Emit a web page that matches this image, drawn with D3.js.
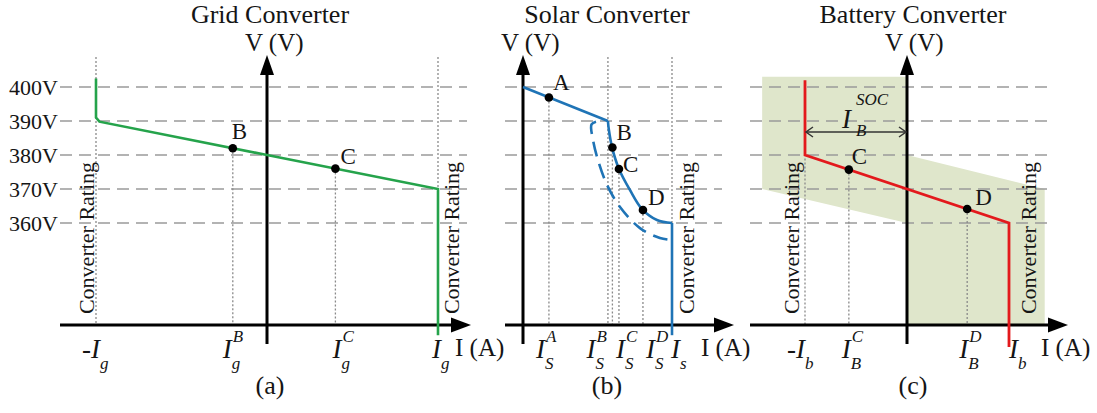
<!DOCTYPE html>
<html>
<head>
<meta charset="utf-8">
<script src="https://cdn.jsdelivr.net/npm/d3@7"></script>
<style>
  body { margin: 0; background: #fff; }
  svg text { font-family: "Liberation Serif", "Times New Roman", serif; fill: #151515; }
</style>
</head>
<body>
<div id="chart"></div>
<script>
var w = 1097, h = 413;

// shared voltage ticks (V)
var voltTicks = [400, 390, 380, 370, 360];

// (a) grid converter, current in % of rating
var gridLine = [[-100, 402.5], [-100, 391], [-98, 389.8], [0, 380], [100, 370], [100, 327]];
var gridPoints = [{name: "B", i: -20, v: 382}, {name: "C", i: 40, v: 376}];
var gridTicks = [
  {i: -100, main: "-I", sup: "", sub: "g"},
  {i: -20, main: "I", sup: "B", sub: "g"},
  {i: 40, main: "I", sup: "C", sub: "g"},
  {i: 100, main: "I", sup: "", sub: "g"}
];

// (b) solar converter
var solarStraight = [[0, 400], [57, 390]];
var solarKnee = [[57, 390], [57.6, 387.5], [59.7, 382.4], [64.4, 375.9], [71.8, 369.7], [79.9, 364.1], [89.9, 360.9], [100, 360]];
var solarDrop = [[100, 360], [100, 327]];
var solarDashed = [[49, 389.8], [46, 389], [47, 384.4], [50.3, 378.5], [56.4, 371.2], [65.1, 364.7], [78.5, 358.5], [91.9, 355.6], [100, 355]];
var solarPoints = [{name: "A", i: 17.4, v: 396.9}, {name: "B", i: 60, v: 382.2}, {name: "C", i: 64.4, v: 375.9}, {name: "D", i: 80.5, v: 363.8}];
var solarTicks = [
  {i: 17.4, main: "I", sup: "A", sub: "S"},
  {i: 60, main: "I", sup: "B", sub: "S"},
  {i: 64.4, main: "I", sup: "C", sub: "S"},
  {i: 80.5, main: "I", sup: "D", sub: "S"},
  {i: 100, main: "I", sup: "", sub: "s"}
];

// (c) battery converter
var batteryLine = [[-100, 402], [-100, 380], [100, 360], [100, 323.5]];
var batteryBand = [[-142, 403], [0, 403], [0, 380], [135, 370], [135, 330], [0, 330], [0, 360], [-142, 370]];
var batteryPoints = [{name: "C", i: -57, v: 375.7}, {name: "D", i: 59, v: 364.1}];
var batteryTicks = [
  {i: -100, main: "-I", sup: "", sub: "b"},
  {i: -57, main: "I", sup: "C", sub: "B"},
  {i: 59, main: "I", sup: "D", sub: "B"},
  {i: 100, main: "I", sup: "", sub: "b"}
];
var socSpan = [-100, 0];

var svg = d3.select("#chart").append("svg").attr("width", w).attr("height", h);

// voltage scale shared by all panels (the current axis sits on a broken scale at 330)
var y = d3.scaleLinear().domain([400, 360]).range([87, 223]);
var axisV = 330;
var baseY = y(axisV);
var vTop = 55, vBottom = 344;

var xa = d3.scaleLinear().domain([-100, 100]).range([96, 438]);
var xb = d3.scaleLinear().domain([0, 100]).range([523, 672]);
var xc = d3.scaleLinear().domain([-100, 100]).range([805, 1009]);

function line(x) {
  return d3.line().x(function(d) { return x(d[0]); }).y(function(d) { return y(d[1]); });
}

function grid(x0, x1) {
  svg.append("g").selectAll("line").data(voltTicks).enter().append("line")
    .attr("x1", x0).attr("x2", x1)
    .attr("y1", function(d) { return y(d); }).attr("y2", function(d) { return y(d); })
    .attr("stroke", "#9a9a9a").attr("stroke-width", 1.5).attr("stroke-dasharray", "12,7");
}

function dotted(x, yTop) {
  svg.append("line").attr("x1", x).attr("x2", x).attr("y1", yTop).attr("y2", baseY)
    .attr("stroke", "#8a8a8a").attr("stroke-width", 1.3).attr("stroke-dasharray", "2,2");
}

function axes(vx, x0, xTip, labelX) {
  svg.append("line").attr("x1", vx).attr("x2", vx).attr("y1", vBottom).attr("y2", vTop + 14)
    .attr("stroke", "#000").attr("stroke-width", 3);
  svg.append("path").attr("d", "M" + vx + "," + vTop + "L" + (vx - 7) + "," + (vTop + 20) + "L" + (vx + 7) + "," + (vTop + 20) + "Z");
  svg.append("line").attr("x1", x0).attr("x2", xTip - 14).attr("y1", baseY).attr("y2", baseY)
    .attr("stroke", "#000").attr("stroke-width", 3);
  svg.append("path").attr("d", "M" + xTip + "," + baseY + "L" + (xTip - 20) + "," + (baseY - 7.5) + "L" + (xTip - 20) + "," + (baseY + 7.5) + "Z");
  svg.append("text").attr("x", vx - 22).attr("y", 51).attr("font-size", 25).text("V (V)");
  svg.append("text").attr("x", labelX).attr("y", 356).attr("font-size", 25).text("I (A)");
}

function title(cx, label, sub) {
  svg.append("text").attr("x", cx).attr("y", 23).attr("text-anchor", "middle").attr("font-size", 26).text(label);
  svg.append("text").attr("x", cx).attr("y", 394).attr("text-anchor", "middle").attr("font-size", 26).text(sub);
}

function rating(bx) {
  svg.append("text").attr("transform", "translate(" + bx + ",238) rotate(-90)")
    .attr("text-anchor", "middle").attr("font-size", 22).text("Converter Rating");
}

function points(x, data, nudge) {
  svg.append("g").selectAll("circle").data(data).enter().append("circle")
    .attr("cx", function(d) { return x(d.i); }).attr("cy", function(d) { return y(d.v); })
    .attr("r", 4.3).attr("fill", "#000");
  svg.append("g").selectAll("text").data(data).enter().append("text")
    .attr("x", function(d) { return x(d.i) + (nudge[d.name] ? nudge[d.name][0] : 4); })
    .attr("y", function(d) { return y(d.v) + (nudge[d.name] ? nudge[d.name][1] : -6); })
    .attr("font-size", 23).text(function(d) { return d.name; });
}

function ticks(x, data, shift) {
  data.forEach(function(d, k) {
    var x0 = x(d.i) + shift[k];
    var t = svg.append("text").attr("x", x0).attr("y", 358).attr("font-size", 27)
      .attr("font-style", "italic").text(d.main);
    var len = t.node().getComputedTextLength();
    if (d.sup) svg.append("text").attr("x", x0 + len + 1).attr("y", 342).attr("font-size", 17)
      .attr("font-style", "italic").text(d.sup);
    svg.append("text").attr("x", x0 + len).attr("y", 369).attr("font-size", 17)
      .attr("font-style", "italic").text(d.sub);
  });
}

/* ------------------------------- (a) Grid ------------------------------- */
grid(60, 467);
svg.append("g").attr("transform", "translate(60,0)")
  .call(d3.axisLeft(y).tickValues(voltTicks).tickSize(0).tickPadding(2).tickFormat(function(d) { return d + "V"; }))
  .call(function(g) { g.select(".domain").remove(); })
  .selectAll("text").attr("font-size", 22).attr("fill", "#151515");
dotted(xa(-100), 57);
dotted(xa(100), 57);
gridPoints.forEach(function(p) { dotted(xa(p.i), y(p.v)); });
axes(xa(0), 60, 471, 455);
svg.append("path").datum(gridLine).attr("d", line(xa))
  .attr("fill", "none").attr("stroke", "#25a34b").attr("stroke-width", 2.6);
points(xa, gridPoints, {B: [-1, -9], C: [5, -5]});
ticks(xa, gridTicks, [-14, -10, -3, -6]);
rating(94);
rating(459);
title(270, "Grid Converter", "(a)");

/* ------------------------------- (b) Solar ------------------------------- */
grid(505, 722);
dotted(xb(57), 57);
dotted(xb(100), 57);
solarPoints.forEach(function(p) { dotted(xb(p.i), y(p.v)); });
axes(xb(0), 505, 734, 701);
svg.append("path").datum(solarDashed).attr("d", line(xb).curve(d3.curveCatmullRom))
  .attr("fill", "none").attr("stroke", "#1f74b6").attr("stroke-width", 2.6).attr("stroke-dasharray", "15,8");
svg.append("path").datum(solarStraight).attr("d", line(xb))
  .attr("fill", "none").attr("stroke", "#1f74b6").attr("stroke-width", 2.6);
svg.append("path").datum(solarKnee).attr("d", line(xb).curve(d3.curveCatmullRom))
  .attr("fill", "none").attr("stroke", "#1f74b6").attr("stroke-width", 2.6);
svg.append("path").datum(solarDrop).attr("d", line(xb))
  .attr("fill", "none").attr("stroke", "#1f74b6").attr("stroke-width", 2.6);
points(xb, solarPoints, {A: [4, -8], B: [4, -8], C: [4, 3], D: [5, -5]});
ticks(xb, solarTicks, [-13, -26, -3, 3, -1]);
rating(694);
title(607, "Solar Converter", "(b)");

/* ------------------------------- (c) Battery ------------------------------- */
svg.append("path").datum(batteryBand).attr("d", line(xc)).attr("fill", "#dfe6cb");
grid(750, 1052);
dotted(xc(-100), y(379));
batteryPoints.forEach(function(p) { dotted(xc(p.i), y(p.v)); });
axes(xc(0), 750, 1068, 1041);
svg.append("path").datum(batteryLine).attr("d", line(xc))
  .attr("fill", "none").attr("stroke", "#e3191c").attr("stroke-width", 2.8);
points(xc, batteryPoints, {C: [3, -6], D: [8, -4]});
ticks(xc, batteryTicks, [-18, -7, -8, 0]);
rating(799);
rating(1036);
title(913, "Battery Converter", "(c)");

// I_B^SOC span arrow
var socY = 132;
svg.append("line").attr("x1", xc(socSpan[0]) + 1).attr("x2", xc(socSpan[1]) - 1).attr("y1", socY).attr("y2", socY)
  .attr("stroke", "#333").attr("stroke-width", 1.5);
svg.append("path").attr("d", "M" + (xc(socSpan[0]) + 8) + "," + (socY - 5) + "L" + (xc(socSpan[0]) + 1) + "," + socY + "L" + (xc(socSpan[0]) + 8) + "," + (socY + 5))
  .attr("fill", "none").attr("stroke", "#333").attr("stroke-width", 1.5);
svg.append("path").attr("d", "M" + (xc(socSpan[1]) - 8) + "," + (socY - 5) + "L" + (xc(socSpan[1]) - 1) + "," + socY + "L" + (xc(socSpan[1]) - 8) + "," + (socY + 5))
  .attr("fill", "none").attr("stroke", "#333").attr("stroke-width", 1.5);
svg.append("text").attr("x", 842).attr("y", 128).attr("font-size", 27).attr("font-style", "italic").text("I");
svg.append("text").attr("x", 856).attr("y", 105).attr("font-size", 17).attr("font-style", "italic").text("SOC");
svg.append("text").attr("x", 856).attr("y", 136).attr("font-size", 17).attr("font-style", "italic").text("B");
</script>
</body>
</html>
